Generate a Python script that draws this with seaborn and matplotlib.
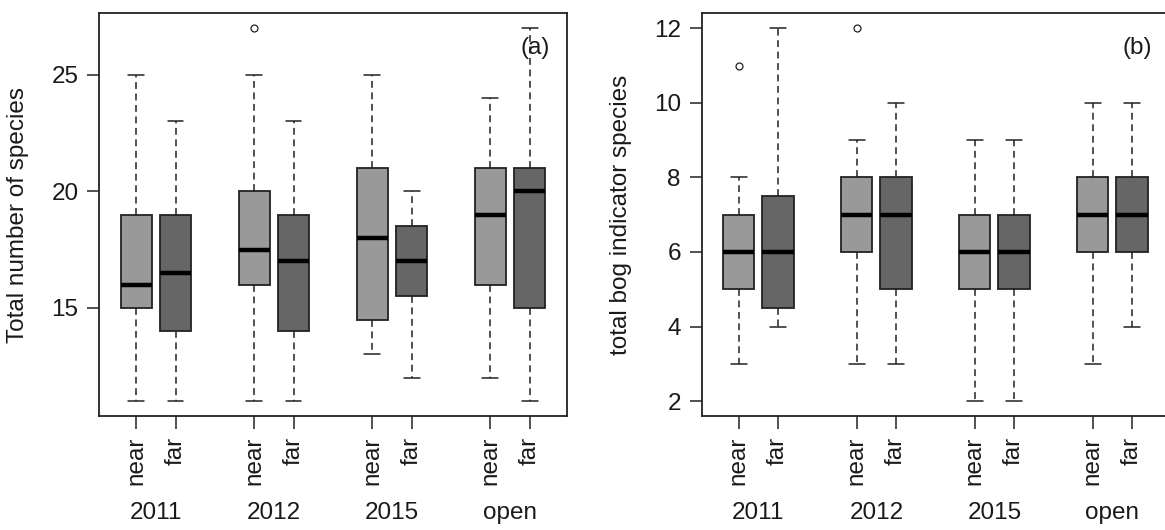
import seaborn as sns
import matplotlib.pyplot as plt
from matplotlib.transforms import blended_transform_factory

# groups / distance classes
years = ["2011", "2012", "2015", "open"]
distances = ["near", "far"]

# panel (a): total number of species, order: 2011 near, 2011 far, 2012 near, ...
a_low = [11, 11, 11, 11, 13, 12, 12, 11]
a_q1 = [15, 14, 16, 14, 14.5, 15.5, 16, 15]
a_med = [16, 16.5, 17.5, 17, 18, 17, 19, 20]
a_q3 = [19, 19, 20, 19, 21, 18.5, 21, 21]
a_high = [25, 23, 25, 23, 25, 20, 24, 27]
a_out = [[], [], [27], [], [], [], [], []]

# panel (b): total bog indicator species
b_low = [3, 4, 3, 3, 2, 2, 3, 4]
b_q1 = [5, 4.5, 6, 5, 5, 5, 6, 6]
b_med = [6, 6, 7, 7, 6, 6, 7, 7]
b_q3 = [7, 7.5, 8, 8, 7, 7, 8, 8]
b_high = [8, 12, 9, 10, 9, 9, 10, 10]
b_out = [[11], [], [12], [], [], [], [], []]

positions = [1, 2, 4, 5, 7, 8, 10, 11]
colors = ["#999999", "#666666"] * 4

sns.set_style("ticks")
plt.rcParams['font.family'] = ['Liberation Sans', 'DejaVu Sans']
plt.rcParams['text.color'] = '#1a1a1a'
plt.rcParams['axes.labelcolor'] = '#1a1a1a'

FS = 17.5


def make_stats(low, q1, med, q3, high, out):
    stats = []
    for i in range(len(med)):
        stats.append(dict(whislo=low[i], q1=q1[i], med=med[i], q3=q3[i],
                          whishi=high[i], fliers=out[i]))
    return stats


def draw_panel(ax, stats, ylim, yticks, ylabel, tag):
    bp = ax.bxp(stats, positions=positions, widths=0.8, capwidths=0.4,
                patch_artist=True, showfliers=True,
                boxprops=dict(edgecolor="#222222", linewidth=1.3),
                medianprops=dict(color="black", linewidth=3.2, solid_capstyle="butt"),
                whiskerprops=dict(color="#222222", linewidth=1.1, linestyle=(0, (4.5, 3))),
                capprops=dict(color="#222222", linewidth=1.1),
                flierprops=dict(marker="o", markersize=5, markerfacecolor="none",
                                markeredgecolor="#222222", markeredgewidth=0.9))
    for patch, c in zip(bp["boxes"], colors):
        patch.set_facecolor(c)

    ax.set_xlim(0.06, 11.94)
    ax.set_ylim(*ylim)
    ax.set_yticks(yticks)
    ax.set_xticks(positions)
    ax.set_xticklabels(distances * 4, rotation=90, fontsize=FS)
    ax.tick_params(axis="y", labelsize=FS, length=9, width=1.1, pad=6,
                   color="#222222", labelcolor="#1a1a1a")
    ax.tick_params(axis="x", length=9, width=1.1, pad=6,
                   color="#222222", labelcolor="#1a1a1a")
    for s in ax.spines.values():
        s.set_visible(True)
        s.set_linewidth(1.3)
        s.set_color("#222222")

    ax.set_ylabel(ylabel, fontsize=FS)
    ax.yaxis.set_label_coords(-0.15, 0.5)

    trans = blended_transform_factory(ax.transData, ax.transAxes)
    for k, yr in enumerate(years):
        ax.text(positions[2 * k] + 0.5, -0.242, yr, transform=trans,
                ha="center", va="center", fontsize=FS)
    ax.text(0.932, 0.915, tag, transform=ax.transAxes, ha="center", va="center",
            fontsize=FS)


fig = plt.figure(figsize=(11.65, 5.3), dpi=100)
ax1 = fig.add_axes([0.0852, 0.2151, 0.4012, 0.7598])
ax2 = fig.add_axes([0.6023, 0.2151, 0.4012, 0.7598])

draw_panel(ax1, make_stats(a_low, a_q1, a_med, a_q3, a_high, a_out),
           (10.36, 27.64), [15, 20, 25], "Total number of species", "(a)")
draw_panel(ax2, make_stats(b_low, b_q1, b_med, b_q3, b_high, b_out),
           (1.6, 12.4), [2, 4, 6, 8, 10, 12], "total bog indicator species", "(b)")

fig.savefig("out.png", dpi=100)
